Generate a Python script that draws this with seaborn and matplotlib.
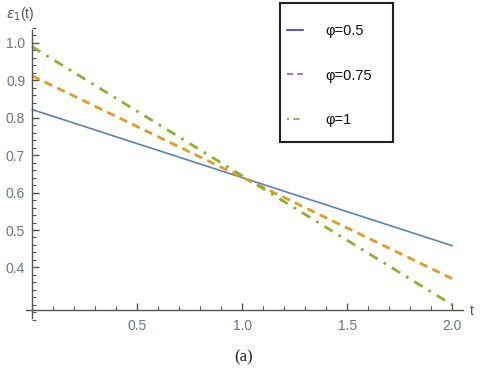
import pandas as pd
import matplotlib.pyplot as plt
import seaborn as sns
from matplotlib.lines import Line2D
from matplotlib.patches import Rectangle
from matplotlib.ticker import MultipleLocator

# values
t = [0.0, 1.0, 2.0]
eps_05 = [0.822, 0.640, 0.458]
eps_075 = [0.912, 0.641, 0.370]
eps_1 = [0.990, 0.645, 0.300]
labels = ['φ=0.5', 'φ=0.75', 'φ=1']

df = pd.DataFrame({'t': t * 3,
                   'eps': eps_05 + eps_075 + eps_1,
                   'phi': [labels[0]] * 3 + [labels[1]] * 3 + [labels[2]] * 3})

sns.set_style('white')
plt.rcParams['font.family'] = ['Liberation Sans', 'DejaVu Sans']

fig = plt.figure(figsize=(4.8, 3.73), dpi=100)
ax = fig.add_axes([0.045, 0.1426, 0.919, 0.7824])

line_colors = ['#5E81B5', '#E19C24', '#8FB032']
g = sns.lineplot(data=df, x='t', y='eps', hue='phi', palette=line_colors,
                 legend=False, ax=ax, linewidth=1.2)
lines = ax.get_lines()
lines[1].set_linestyle((0, (3, 2)))
lines[1].set_linewidth(2.0)
lines[2].set_linestyle((0, (3.5, 2.5, 1, 2.5)))
lines[2].set_linewidth(2.0)

ax.set_xlim(-0.05, 2.05)
ax.set_ylim(0.26, 1.04)
ax.set_xlabel('')
ax.set_ylabel('')

# Mathematica style axes
for s in ['top', 'right']:
    ax.spines[s].set_visible(False)
ax.spines['left'].set_position(('data', 0))
ax.spines['bottom'].set_position(('data', 0.285))
ax.spines['left'].set_bounds(0.265, 1.035)
ax.spines['bottom'].set_bounds(-0.03, 2.05)
for s in ['left', 'bottom']:
    ax.spines[s].set_color('#555555')
    ax.spines[s].set_linewidth(1.0)

ax.set_xticks([0.5, 1.0, 1.5, 2.0])
ax.set_xticklabels(['0.5', '1.0', '1.5', '2.0'])
ax.xaxis.set_minor_locator(MultipleLocator(0.1))
ax.set_yticks([0.4, 0.5, 0.6, 0.7, 0.8, 0.9, 1.0])
ax.set_yticklabels(['0.4', '0.5', '0.6', '0.7', '0.8', '0.9', '1.0'])
ax.yaxis.set_minor_locator(MultipleLocator(0.02))
ax.tick_params(which='both', direction='in', color='#555555',
               bottom=True, left=True)
ax.tick_params(which='major', length=5, width=1.0, labelsize=10,
               labelcolor='#6E7488')
ax.tick_params(which='minor', length=3, width=0.8)
ax.tick_params(axis='x', pad=6)
ax.tick_params(axis='y', pad=5)

fig.text(0.983, 0.166, 't', fontsize=10, color='#555555', ha='center', va='center')
fig.text(0.012, 0.962, r'$\varepsilon_1$(t)', fontsize=10, color='#555555',
         ha='left', va='center')
fig.text(0.507, 0.043, '(a)', fontsize=12, family='Liberation Serif',
         ha='center', va='center')

# separate legend box as in the original
handles = [Line2D([], [], color='#5C5CA8', lw=1.5),
           Line2D([], [], color='#B07898', lw=1.5, ls=(0, (3, 2))),
           Line2D([], [], color='#B0A468', lw=1.5, ls=(0, (1, 2, 3, 2)))]
leg = fig.legend(handles, labels, loc='upper left',
                 bbox_to_anchor=(0.598, 0.935), frameon=False, fontsize=10.5,
                 handlelength=1.1, handletextpad=1.5, labelspacing=2.08,
                 borderpad=0, borderaxespad=0)
for txt in leg.get_texts():
    txt.set_color('#111111')
fig.patches.append(Rectangle((280 / 480, 1 - 142 / 373), 113 / 480, 139 / 373,
                             transform=fig.transFigure, fill=False,
                             edgecolor='#222222', linewidth=1.5))

plt.savefig('out.png', dpi=100)
